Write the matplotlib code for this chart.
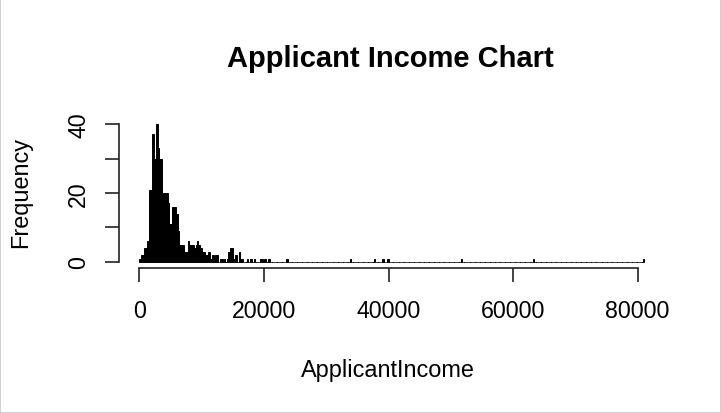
import numpy as np
import matplotlib
matplotlib.use("Agg")
import matplotlib.pyplot as plt
from matplotlib.patches import Rectangle

plt.rcParams['font.family'] = ['Liberation Sans', 'DejaVu Sans']

# histogram of ApplicantIncome, bins of 200
bin_width = 200
x_max = 81000
# counts for bins 0-200, 200-400, ... up to 14800-15000
main_counts = [1, 2, 2, 2, 4, 4, 6, 6, 21, 21,
               37, 37, 30, 40, 40, 33, 30, 30, 20, 20,
               20, 20, 20, 17, 11, 11, 16, 16, 16, 14,
               14, 9, 5, 5, 5, 5, 3, 3, 3, 6,
               5, 5, 5, 5, 4, 5, 6, 5, 5, 4,
               3, 3, 3, 2, 2, 3, 3, 1, 2, 2,
               1, 2, 2, 0, 0, 1, 1, 0, 1, 0,
               1, 3, 3, 4, 4]
# single applicants in the long tail
tail_incomes = [15250, 15450, 15450, 16050, 16150, 16150, 16250, 16550,
                17250, 17950, 18450, 19450, 19850, 20250, 20650, 20850,
                23750, 33850, 37650, 39150, 39850, 51650, 63250, 80900]

x_ticks = [0, 20000, 40000, 60000, 80000]
y_ticks = [0, 10, 20, 30, 40]
y_tick_labels = ["0", "", "20", "", "40"]

edges = np.arange(0, x_max + bin_width, bin_width)
counts = np.zeros(len(edges) - 1)
counts[:len(main_counts)] = main_counts
for v in tail_incomes:
    counts[int(v // bin_width)] += 1

W, H = 721, 414
fig = plt.figure(figsize=(W / 100, H / 100), dpi=100)
fig.patches.append(Rectangle((0, 0), 1, 1, transform=fig.transFigure,
                             fill=False, edgecolor="#c8c8c8", linewidth=1.2))

# plot region in pixels (R style 4% padding)
left, right, top, bottom = 119.3, 664, 119.5, 268.5
ax = fig.add_axes([left / W, 1 - bottom / H, (right - left) / W, (bottom - top) / H])

ax.bar(edges[:-1], counts, width=bin_width, align='edge',
       color='black', edgecolor='black', linewidth=0.7)

ax.set_xlim(-0.04 * x_max, x_max * 1.04)
ax.set_ylim(-1.6, 41.6)

for s in ['top', 'right']:
    ax.spines[s].set_visible(False)
ax.spines['bottom'].set_bounds(0, 80000)
ax.spines['left'].set_bounds(0, 40)
for s in ['bottom', 'left']:
    ax.spines[s].set_linewidth(1.2)
    ax.spines[s].set_color('#222222')

ax.set_xticks(x_ticks)
ax.set_xticklabels([str(t) for t in x_ticks])
ax.set_yticks(y_ticks)
ax.set_yticklabels(y_tick_labels, rotation=90, va='center')
ax.tick_params(axis='both', direction='out', length=10, width=1.2,
               color='#222222', labelsize=16.7, pad=13)
ax.tick_params(axis='y', pad=11)

fig.text(390.5 / W, 1 - 67 / H, "Applicant Income Chart", ha='center',
         va='baseline', fontsize=21, fontweight='bold')
fig.text(388 / W, 1 - 371 / H, "ApplicantIncome", ha='center',
         va='center', fontsize=16.9)
fig.text(21 / W, 1 - 193 / H, "Frequency", ha='center', va='center',
         rotation=90, fontsize=16.9)

fig.savefig("out.png", dpi=100)
